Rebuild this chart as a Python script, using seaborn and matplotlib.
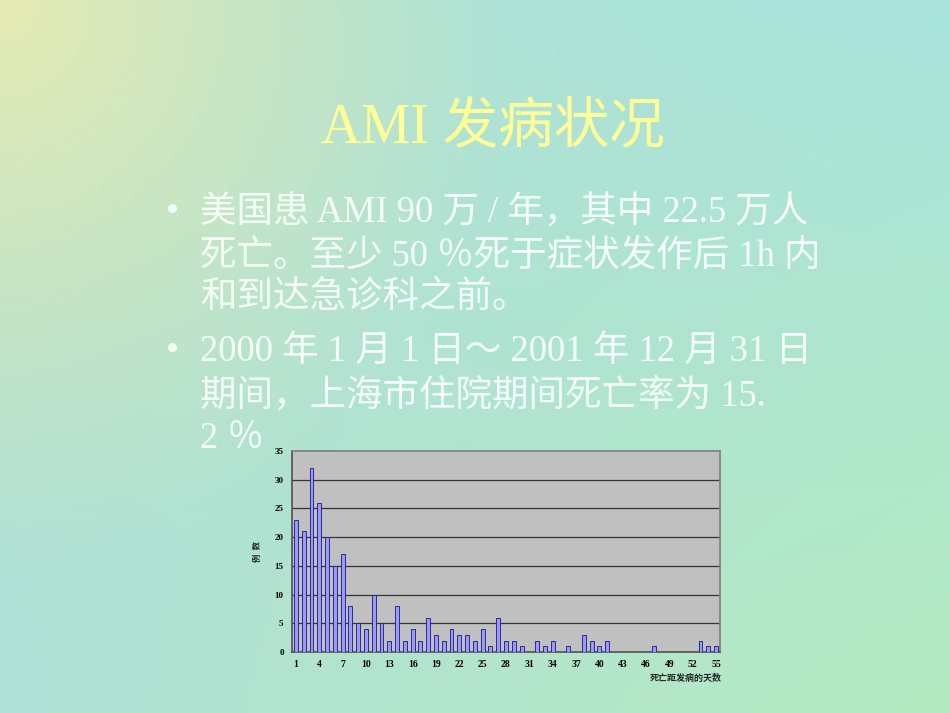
import numpy as np
import pandas as pd
import seaborn as sns
import matplotlib.pyplot as plt

# data
days = list(range(1, 56))
counts = [23, 21, 32, 26, 20, 15, 17, 8, 5, 4,
          10, 5, 2, 8, 2, 4, 2, 6, 3, 2,
          4, 3, 3, 2, 4, 1, 6, 2, 2, 1,
          0, 2, 1, 2, 0, 1, 0, 3, 2, 1,
          2, 0, 0, 0, 0, 0, 1, 0, 0, 0,
          0, 0, 2, 1, 1]
yticks = [0, 5, 10, 15, 20, 25, 30, 35]
xlabel_days = list(range(1, 56, 3))

title = 'AMI 发病状况'
bullet_lines = [
    ('•', '美国患 AMI 90 万 / 年，其中 22.5 万人'),
    ('', '死亡。至少 50 ％死于症状发作后 1h 内'),
    ('', '和到达急诊科之前。'),
    ('•', '2000 年 1 月 1 日～ 2001 年 12 月 31 日'),
    ('', '期间，上海市住院期间死亡率为 15.'),
    ('', '2 ％'),
]
line_y = [213, 257, 298, 352, 396, 439]

df = pd.DataFrame({'day': days, 'n': counts})

sns.set_theme(style='white')
plt.rcParams['font.family'] = ['Liberation Serif', 'Noto Sans CJK SC', 'DejaVu Sans']

W, H = 950, 713
fig = plt.figure(figsize=(9.5, 7.13), dpi=100)

# slide background gradient
bg = fig.add_axes([0, 0, 1, 1], zorder=0)
yy, xx = np.mgrid[0:1:200j, 0:1:260j]
tl = np.array([0.70, 0.88, 0.82])
tr = np.array([0.66, 0.89, 0.86])
bl = np.array([0.69, 0.88, 0.84])
br = np.array([0.71, 0.92, 0.76])
img = (tl * ((1 - xx) * (1 - yy))[..., None] + tr * (xx * (1 - yy))[..., None]
       + bl * ((1 - xx) * yy)[..., None] + br * (xx * yy)[..., None])
yel = np.array([0.90, 0.92, 0.70])
r = np.sqrt((xx / 0.55) ** 2 + (yy / 0.8) ** 2)
w = (np.clip(1 - r, 0, 1) ** 1.2)[..., None]
img = img * (1 - w) + yel * w
bg.imshow(img, aspect='auto', extent=[0, 1, 0, 1], origin='upper')
bg.set_xlim(0, 1)
bg.set_ylim(0, 1)
bg.axis('off')

# title and bullet text
fig.text(493 / W, 1 - 128 / H, title, ha='center', va='center',
         fontsize=40, color='#ffff99', fontweight='light')
for (b, txt), y in zip(bullet_lines, line_y):
    if b:
        fig.text(166 / W, 1 - y / H, b, ha='left', va='center',
                 fontsize=27, color='#f4fff8')
    fig.text(200 / W, 1 - y / H, txt, ha='left', va='center',
             fontsize=26.3, color='#f4fff8', fontweight='light')

# bar chart
ax = fig.add_axes([292 / W, 1 - 652 / H, 428 / W, 201 / H], zorder=2)
ax.set_facecolor('#c0c0c0')
sns.barplot(data=df, x='day', y='n', color='#9999ff', edgecolor='#2a2a8a',
            linewidth=0.7, width=0.5, saturation=1, ax=ax, zorder=3)
ax.set_ylim(0, 35)
ax.set_xlim(-0.5, len(days) - 0.5)
ax.set_yticks(yticks)
ax.set_yticklabels([str(v) for v in yticks], fontsize=6.5, fontweight='bold')
ax.set_xticks([d - 1 for d in xlabel_days])
ax.set_xticklabels([str(d) for d in xlabel_days], fontsize=7, fontweight='bold')
ax.tick_params(axis='both', length=0, pad=6, colors='black')
for v in yticks[1:-1]:
    ax.axhline(v, color='#333333', linewidth=0.9, zorder=1)
for side in ['top', 'right']:
    ax.spines[side].set_color('#808080')
for side in ['left', 'bottom']:
    ax.spines[side].set_color('#555555')
ax.set_xlabel('')
ax.set_ylabel('例  数', fontsize=6, fontweight='bold', labelpad=9)
fig.text(722 / W, 1 - 678 / H, '死亡距发病的天数', ha='right', va='center',
         fontsize=6.5, fontweight='bold')

fig.savefig('out.png', dpi=100)
